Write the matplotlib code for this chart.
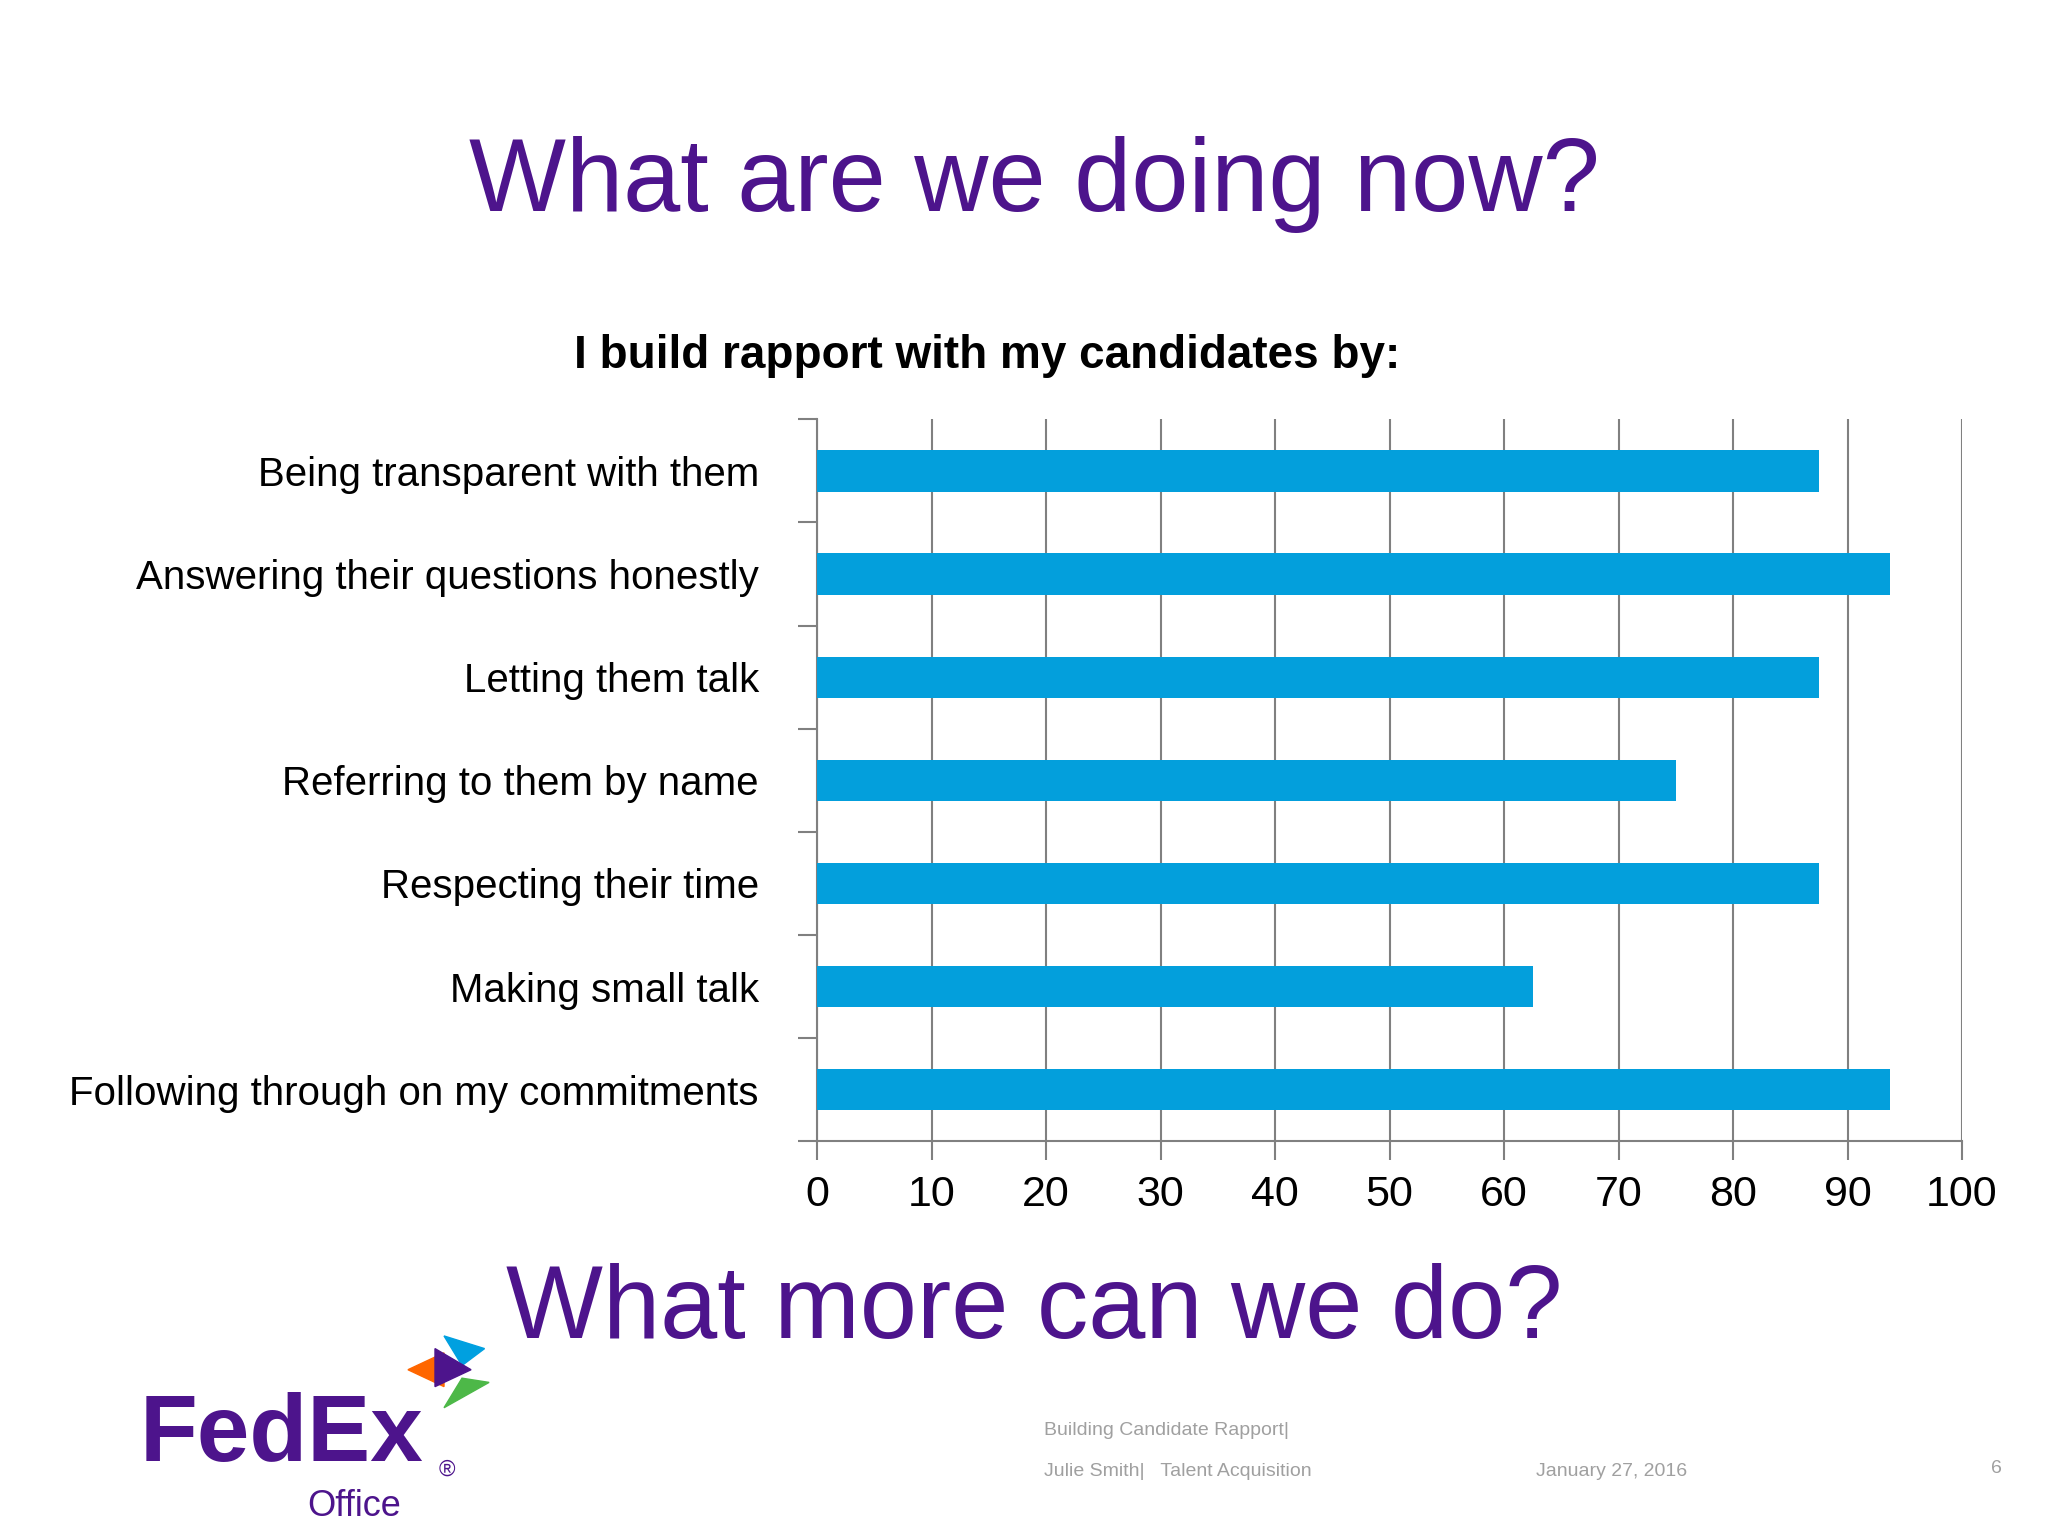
import matplotlib
matplotlib.use("Agg")
import matplotlib.pyplot as plt
from matplotlib.patches import Polygon

categories = ["Being transparent with them", "Answering their questions honestly",
              "Letting them talk", "Referring to them by name", "Respecting their time",
              "Making small talk", "Following through on my commitments"]
values = [87.5, 93.75, 87.5, 75, 87.5, 62.5, 93.75]
xticks = list(range(0, 101, 10))

FONT = "Liberation Sans"
plt.rcParams["font.family"] = FONT
PURPLE = "#4d148c"
fig = plt.figure(figsize=(20.48, 15.36), dpi=100)
ax = fig.add_axes([0.399, 0.257, 0.559, 0.47])
n = len(categories)
ypos = list(range(n))[::-1]
ax.barh(ypos, values, height=0.4, color="#039fdc", zorder=3)
ax.set_xlim(0, 100)
ax.set_ylim(-0.5, n - 0.5)
ax.set_xticks(xticks)
ax.set_xticklabels([str(t) for t in xticks], fontsize=31)
ax.set_yticks(ypos)
ax.set_yticklabels(categories, fontsize=29)
ax.set_yticks([i - 0.5 for i in range(n + 1)], minor=True)
ax.tick_params(axis="y", which="major", length=0, pad=42)
ax.tick_params(axis="y", which="minor", length=14, color="#808080", width=1.5)
ax.tick_params(axis="x", length=14, color="#808080", width=1.5, pad=10)
ax.grid(axis="x", color="#808080", linewidth=1.5, zorder=0)
for s in ["top", "right"]:
    ax.spines[s].set_visible(False)
for s in ["left", "bottom"]:
    ax.spines[s].set_color("#808080")
    ax.spines[s].set_linewidth(1.5)

fig.text(0.505, 0.88, "What are we doing now?", ha="center", va="center", fontsize=74, color=PURPLE)
fig.text(0.482, 0.768, "I build rapport with my candidates by:", ha="center", va="center",
         fontsize=33, fontweight="bold")
fig.text(0.505, 0.146, "What more can we do?", ha="center", va="center", fontsize=74, color=PURPLE)

fig.text(0.51, 0.069, "Building Candidate Rapport|", fontsize=14, color="#a0a0a0", va="center")
fig.text(0.51, 0.042, "Julie Smith|   Talent Acquisition", fontsize=14, color="#a0a0a0", va="center")
fig.text(0.75, 0.042, "January 27, 2016", fontsize=14, color="#a0a0a0", va="center")
fig.text(0.972, 0.044, "6", fontsize=14, color="#a0a0a0", va="center")

fig.text(0.068, 0.065, "FedEx", fontsize=68, fontweight="bold", color=PURPLE, va="center")
fig.text(0.15, 0.019, "Office", fontsize=26, color=PURPLE, va="center")
fig.text(0.214, 0.043, "®", fontsize=16, color=PURPLE, va="center")
la = fig.add_axes([0.197, 0.078, 0.044, 0.055]); la.axis("off")
la.set_xlim(0, 1); la.set_ylim(0, 1)
la.add_patch(Polygon([[0.05, 0.55], [0.45, 0.75], [0.45, 0.35]], color="#ff6600"))
la.add_patch(Polygon([[0.45, 0.95], [0.65, 0.6], [0.9, 0.8]], color="#00a0e0"))
la.add_patch(Polygon([[0.45, 0.1], [0.65, 0.45], [0.95, 0.4]], color="#4db848"))
la.add_patch(Polygon([[0.35, 0.35], [0.35, 0.8], [0.75, 0.55]], color=PURPLE))

fig.savefig("out.png", dpi=100, facecolor="white")
